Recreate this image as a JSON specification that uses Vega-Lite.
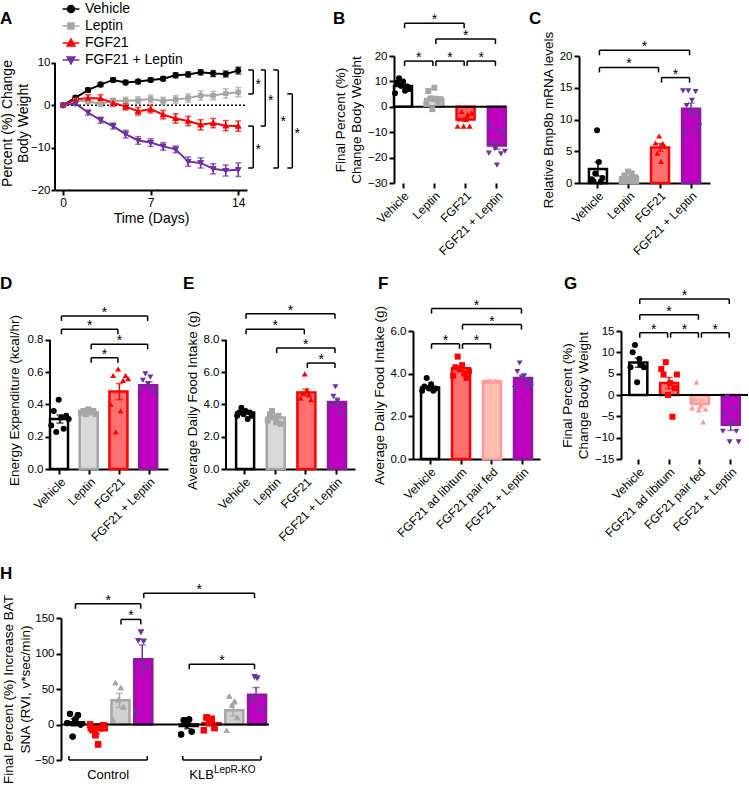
{
"$schema": "https://vega.github.io/schema/vega-lite/v6.json",
"background": "white",
"padding": 0,
"autosize": {"type": "pad"},
"config": {
 "font": "Liberation Sans",
 "view": {"stroke": null},
 "axis": {"grid": false, "domainColor": "#000", "domainWidth": 2, "tickColor": "#000", "tickWidth": 2, "tickSize": 5, "labelColor": "#000", "labelFontSize": 11.5, "titleColor": "#000", "titleFontSize": 13.5, "titleFontWeight": "normal", "labelPadding": 2, "titlePadding": 4, "labelFlush": false, "labelOverlap": false, "titleLineHeight": 16},
 "title": {"fontSize": 17, "fontWeight": "bold", "anchor": "start", "frame": "group", "color": "#000", "offset": 0, "baseline": "alphabetic"},
 "legend": {"labelColor": "#000", "padding": 0},
 "text": {"color": "#000"}
},
"datasets": {
 "zero": [{"z": 0}],
 "a_ref": [{"x0": 0, "x1": 14.7, "y0": 0, "xa": -0.64, "ya0": -20, "ya1": 10}],
 "d_ax": [{"xa": "Vehicle", "y0": 0, "y1": 0.8}],
 "e_ax": [{"xa": "Vehicle", "y0": 0, "y1": 8}],
 "a_ts": [
  {"d":0,"g":"Vehicle","v":0,"e":0},{"d":1,"g":"Vehicle","v":1.8,"e":0.5},{"d":2,"g":"Vehicle","v":3.6,"e":0.5},{"d":3,"g":"Vehicle","v":4.9,"e":0.5},{"d":4,"g":"Vehicle","v":6.0,"e":0.5},{"d":5,"g":"Vehicle","v":5.4,"e":0.5},{"d":6,"g":"Vehicle","v":5.6,"e":0.5},{"d":7,"g":"Vehicle","v":6.0,"e":0.5},{"d":8,"g":"Vehicle","v":6.3,"e":0.5},{"d":9,"g":"Vehicle","v":7.1,"e":0.6},{"d":10,"g":"Vehicle","v":7.3,"e":0.6},{"d":11,"g":"Vehicle","v":7.8,"e":0.6},{"d":12,"g":"Vehicle","v":7.5,"e":0.7},{"d":13,"g":"Vehicle","v":7.4,"e":0.7},{"d":14,"g":"Vehicle","v":8.2,"e":0.8},
  {"d":0,"g":"Leptin","v":0,"e":0},{"d":1,"g":"Leptin","v":1.2,"e":0.5},{"d":2,"g":"Leptin","v":0.9,"e":0.6},{"d":3,"g":"Leptin","v":0.4,"e":0.7},{"d":4,"g":"Leptin","v":1.0,"e":0.7},{"d":5,"g":"Leptin","v":1.1,"e":0.8},{"d":6,"g":"Leptin","v":1.2,"e":0.8},{"d":7,"g":"Leptin","v":1.5,"e":0.9},{"d":8,"g":"Leptin","v":1.0,"e":0.9},{"d":9,"g":"Leptin","v":1.4,"e":0.9},{"d":10,"g":"Leptin","v":1.7,"e":1.0},{"d":11,"g":"Leptin","v":2.3,"e":1.1},{"d":12,"g":"Leptin","v":2.3,"e":1.0},{"d":13,"g":"Leptin","v":2.8,"e":1.1},{"d":14,"g":"Leptin","v":3.1,"e":1.1},
  {"d":0,"g":"FGF21","v":0,"e":0},{"d":1,"g":"FGF21","v":1.4,"e":0.5},{"d":2,"g":"FGF21","v":1.7,"e":0.8},{"d":3,"g":"FGF21","v":1.6,"e":0.9},{"d":4,"g":"FGF21","v":0.6,"e":0.8},{"d":5,"g":"FGF21","v":-0.3,"e":0.8},{"d":6,"g":"FGF21","v":-1.4,"e":0.9},{"d":7,"g":"FGF21","v":-0.9,"e":0.9},{"d":8,"g":"FGF21","v":-2.2,"e":1.0},{"d":9,"g":"FGF21","v":-3.1,"e":1.1},{"d":10,"g":"FGF21","v":-3.7,"e":1.1},{"d":11,"g":"FGF21","v":-4.6,"e":1.2},{"d":12,"g":"FGF21","v":-4.2,"e":1.1},{"d":13,"g":"FGF21","v":-4.8,"e":1.2},{"d":14,"g":"FGF21","v":-4.9,"e":1.2},
  {"d":0,"g":"FGF21 + Leptin","v":0,"e":0},{"d":1,"g":"FGF21 + Leptin","v":0.4,"e":0.4},{"d":2,"g":"FGF21 + Leptin","v":-1.7,"e":0.6},{"d":3,"g":"FGF21 + Leptin","v":-3.5,"e":0.7},{"d":4,"g":"FGF21 + Leptin","v":-4.9,"e":0.7},{"d":5,"g":"FGF21 + Leptin","v":-6.8,"e":0.9},{"d":6,"g":"FGF21 + Leptin","v":-8.3,"e":0.9},{"d":7,"g":"FGF21 + Leptin","v":-8.8,"e":0.9},{"d":8,"g":"FGF21 + Leptin","v":-9.7,"e":0.9},{"d":9,"g":"FGF21 + Leptin","v":-10.4,"e":0.8},{"d":10,"g":"FGF21 + Leptin","v":-13.3,"e":1.1},{"d":11,"g":"FGF21 + Leptin","v":-13.6,"e":1.2},{"d":12,"g":"FGF21 + Leptin","v":-15.0,"e":1.2},{"d":13,"g":"FGF21 + Leptin","v":-15.4,"e":1.3},{"d":14,"g":"FGF21 + Leptin","v":-15.2,"e":1.6}
 ],
 "a_bk": [
  {"xt":14.8,"xv":15.2,"ya":8.35,"yb":2.7,"ym":5.5,"xs":15.6},
  {"xt":15.8,"xv":16.16,"ya":8.35,"yb":-4.9,"ym":1.7,"xs":16.6},
  {"xt":14.8,"xv":15.2,"ya":-4.9,"yb":-14.8,"ym":-9.85,"xs":15.6},
  {"xt":16.8,"xv":17.2,"ya":8.35,"yb":-14.8,"ym":-3.2,"xs":17.6},
  {"xt":17.92,"xv":18.32,"ya":2.7,"yb":-14.8,"ym":-6.05,"xs":18.72}
 ],
 "b_bar": [{"g":"Vehicle","m":8.2,"e":0.8},{"g":"Leptin","m":3.1,"e":1.0},{"g":"FGF21","m":-5.0,"e":0.7},{"g":"FGF21 + Leptin","m":-15.2,"e":1.5}],
 "b_pt": [
  {"g":"Vehicle","r":1,"v":5.3},{"g":"Vehicle","r":2,"v":9.5},{"g":"Vehicle","r":3,"v":11.2},{"g":"Vehicle","r":4,"v":8.3},{"g":"Vehicle","r":5,"v":10.0},{"g":"Vehicle","r":6,"v":6.3},{"g":"Vehicle","r":7,"v":8.0},{"g":"Vehicle","r":8,"v":7.0},
  {"g":"Leptin","r":1,"v":1.1},{"g":"Leptin","r":2,"v":6.2},{"g":"Leptin","r":3,"v":3.3},{"g":"Leptin","r":4,"v":-0.9},{"g":"Leptin","r":5,"v":7.5},{"g":"Leptin","r":6,"v":3.0},{"g":"Leptin","r":7,"v":1.5},{"g":"Leptin","r":8,"v":3.0},
  {"g":"FGF21","r":1,"v":-7.6},{"g":"FGF21","r":2,"v":-4.8},{"g":"FGF21","r":3,"v":-1.9},{"g":"FGF21","r":4,"v":-7.6},{"g":"FGF21","r":5,"v":-5.0},{"g":"FGF21","r":6,"v":-3.0},{"g":"FGF21","r":7,"v":-7.6},{"g":"FGF21","r":8,"v":-2.5},
  {"g":"FGF21 + Leptin","r":1,"v":-18.2},{"g":"FGF21 + Leptin","r":2,"v":-7.8},{"g":"FGF21 + Leptin","r":3,"v":-14.6},{"g":"FGF21 + Leptin","r":4,"v":-16.5},{"g":"FGF21 + Leptin","r":5,"v":-23},{"g":"FGF21 + Leptin","r":6,"v":-9.5},{"g":"FGF21 + Leptin","r":7,"v":-18.5},{"g":"FGF21 + Leptin","r":8,"v":-11},{"g":"FGF21 + Leptin","r":9,"v":-17.5}
 ],
 "b_bk": [
  {"a":"Vehicle","b":"FGF21","h":32.9,"m":"Leptin","half":false},
  {"a":"Leptin","b":"FGF21 + Leptin","h":26.7,"m":"FGF21","half":false},
  {"a":"Vehicle","b":"Leptin","h":18,"m":"Vehicle","half":true},
  {"a":"Leptin","b":"FGF21","h":18,"m":"Leptin","half":true},
  {"a":"FGF21","b":"FGF21 + Leptin","h":18,"m":"FGF21","half":true}
 ],
 "c_bar": [{"g":"Vehicle","m":2.2,"e":1.1},{"g":"Leptin","m":0.9,"e":0.2},{"g":"FGF21","m":5.6,"e":0.6},{"g":"FGF21 + Leptin","m":11.7,"e":0.9}],
 "c_pt": [
  {"g":"Vehicle","r":2,"v":0.6},{"g":"Vehicle","r":3,"v":0.3},{"g":"Vehicle","r":4,"v":1.5},{"g":"Vehicle","r":5,"v":8.3},{"g":"Vehicle","r":6,"v":3.3},{"g":"Vehicle","r":7,"v":0.2},{"g":"Vehicle","r":8,"v":0.8},
  {"g":"Leptin","r":2,"v":0.3},{"g":"Leptin","r":3,"v":1.2},{"g":"Leptin","r":4,"v":0.6},{"g":"Leptin","r":5,"v":1.8},{"g":"Leptin","r":6,"v":0.5},{"g":"Leptin","r":7,"v":1.5},{"g":"Leptin","r":8,"v":0.4},{"g":"Leptin","r":9,"v":0.9},
  {"g":"FGF21","r":3,"v":6.3},{"g":"FGF21","r":4,"v":4.7},{"g":"FGF21","r":5,"v":7.4},{"g":"FGF21","r":6,"v":3.4},{"g":"FGF21","r":7,"v":6.2},{"g":"FGF21","r":8,"v":5.8},
  {"g":"FGF21 + Leptin","r":1,"v":14.5},{"g":"FGF21 + Leptin","r":2,"v":8.0},{"g":"FGF21 + Leptin","r":3,"v":12.2},{"g":"FGF21 + Leptin","r":4,"v":14.5},{"g":"FGF21 + Leptin","r":5,"v":10.9},{"g":"FGF21 + Leptin","r":6,"v":13.0},{"g":"FGF21 + Leptin","r":7,"v":8.0},{"g":"FGF21 + Leptin","r":8,"v":14.4},{"g":"FGF21 + Leptin","r":9,"v":10.9},{"g":"FGF21 + Leptin","r":10,"v":9.0}
 ],
 "c_bk": [
  {"a":"Vehicle","b":"FGF21 + Leptin","h":20.9,"m":"Leptin","half":true},
  {"a":"Vehicle","b":"FGF21","h":18.2,"m":"Leptin","half":false},
  {"a":"FGF21","b":"FGF21 + Leptin","h":16.6,"m":"FGF21","half":true}
 ],
 "d_bar": [{"g":"Vehicle","m":0.31,"e":0.025},{"g":"Leptin","m":0.35,"e":0.01},{"g":"FGF21","m":0.48,"e":0.05},{"g":"FGF21 + Leptin","m":0.52,"e":0.02}],
 "d_pt": [
  {"g":"Vehicle","r":1,"v":0.27},{"g":"Vehicle","r":2,"v":0.36},{"g":"Vehicle","r":3,"v":0.23},{"g":"Vehicle","r":4,"v":0.43},{"g":"Vehicle","r":5,"v":0.32},{"g":"Vehicle","r":6,"v":0.25},{"g":"Vehicle","r":7,"v":0.33},{"g":"Vehicle","r":8,"v":0.31},
  {"g":"Leptin","r":1,"v":0.35},{"g":"Leptin","r":2,"v":0.36},{"g":"Leptin","r":3,"v":0.34},{"g":"Leptin","r":4,"v":0.37},{"g":"Leptin","r":5,"v":0.35},{"g":"Leptin","r":6,"v":0.36},{"g":"Leptin","r":7,"v":0.34},
  {"g":"FGF21","r":1,"v":0.40},{"g":"FGF21","r":2,"v":0.58},{"g":"FGF21","r":3,"v":0.23},{"g":"FGF21","r":4,"v":0.62},{"g":"FGF21","r":5,"v":0.36},{"g":"FGF21","r":6,"v":0.55},{"g":"FGF21","r":7,"v":0.58},{"g":"FGF21","r":8,"v":0.56},
  {"g":"FGF21 + Leptin","r":1,"v":0.50},{"g":"FGF21 + Leptin","r":2,"v":0.55},{"g":"FGF21 + Leptin","r":3,"v":0.59},{"g":"FGF21 + Leptin","r":4,"v":0.53},{"g":"FGF21 + Leptin","r":5,"v":0.57},{"g":"FGF21 + Leptin","r":6,"v":0.48},{"g":"FGF21 + Leptin","r":7,"v":0.47}
 ],
 "d_bk": [
  {"a":"Vehicle","b":"FGF21 + Leptin","h":0.949,"m":"Leptin","half":true},
  {"a":"Vehicle","b":"FGF21","h":0.866,"m":"Leptin","half":false},
  {"a":"Leptin","b":"FGF21 + Leptin","h":0.773,"m":"FGF21","half":false},
  {"a":"Leptin","b":"FGF21","h":0.69,"m":"Leptin","half":true}
 ],
 "e_bar": [{"g":"Vehicle","m":3.5,"e":0.1},{"g":"Leptin","m":3.2,"e":0.1},{"g":"FGF21","m":4.75,"e":0.2},{"g":"FGF21 + Leptin","m":4.15,"e":0.25}],
 "e_pt": [
  {"g":"Vehicle","r":1,"v":3.3},{"g":"Vehicle","r":2,"v":3.5},{"g":"Vehicle","r":3,"v":3.8},{"g":"Vehicle","r":4,"v":3.4},{"g":"Vehicle","r":5,"v":3.6},{"g":"Vehicle","r":6,"v":3.1},{"g":"Vehicle","r":7,"v":3.5},{"g":"Vehicle","r":8,"v":3.3},
  {"g":"Leptin","r":1,"v":3.0},{"g":"Leptin","r":2,"v":3.4},{"g":"Leptin","r":3,"v":3.6},{"g":"Leptin","r":4,"v":3.2},{"g":"Leptin","r":5,"v":2.9},{"g":"Leptin","r":6,"v":3.3},{"g":"Leptin","r":7,"v":2.8},
  {"g":"FGF21","r":2,"v":4.4},{"g":"FGF21","r":3,"v":4.7},{"g":"FGF21","r":4,"v":5.9},{"g":"FGF21","r":5,"v":4.9},{"g":"FGF21","r":6,"v":4.6},{"g":"FGF21","r":7,"v":4.3},
  {"g":"FGF21 + Leptin","r":2,"v":3.9},{"g":"FGF21 + Leptin","r":3,"v":4.5},{"g":"FGF21 + Leptin","r":4,"v":5.1},{"g":"FGF21 + Leptin","r":5,"v":4.2},{"g":"FGF21 + Leptin","r":6,"v":3.4},{"g":"FGF21 + Leptin","r":7,"v":3.8}
 ],
 "e_bk": [
  {"a":"Vehicle","b":"FGF21 + Leptin","h":9.63,"m":"Leptin","half":true},
  {"a":"Vehicle","b":"FGF21","h":8.66,"m":"Leptin","half":false},
  {"a":"Leptin","b":"FGF21 + Leptin","h":7.5,"m":"FGF21","half":false},
  {"a":"FGF21","b":"FGF21 + Leptin","h":6.57,"m":"FGF21","half":true}
 ],
 "f_bar": [{"g":"Vehicle","m":3.35,"e":0.08},{"g":"FGF21 ad libitum","m":4.25,"e":0.1},{"g":"FGF21 pair fed","m":3.65,"e":0.01},{"g":"FGF21 + Leptin","m":3.8,"e":0.15}],
 "f_pt": [
  {"g":"Vehicle","r":1,"v":3.2},{"g":"Vehicle","r":2,"v":3.4},{"g":"Vehicle","r":3,"v":3.8},{"g":"Vehicle","r":4,"v":3.3},{"g":"Vehicle","r":5,"v":3.5},{"g":"Vehicle","r":6,"v":3.2},{"g":"Vehicle","r":7,"v":3.3},
  {"g":"FGF21 ad libitum","r":1,"v":3.9},{"g":"FGF21 ad libitum","r":2,"v":4.3},{"g":"FGF21 ad libitum","r":3,"v":4.8},{"g":"FGF21 ad libitum","r":4,"v":4.2},{"g":"FGF21 ad libitum","r":5,"v":4.4},{"g":"FGF21 ad libitum","r":6,"v":4.0},{"g":"FGF21 ad libitum","r":7,"v":3.8},{"g":"FGF21 ad libitum","r":8,"v":4.1},
  {"g":"FGF21 pair fed","r":1,"v":3.64},{"g":"FGF21 pair fed","r":2,"v":3.66},{"g":"FGF21 pair fed","r":3,"v":3.65},{"g":"FGF21 pair fed","r":4,"v":3.67},{"g":"FGF21 pair fed","r":5,"v":3.63},{"g":"FGF21 pair fed","r":6,"v":3.66},{"g":"FGF21 pair fed","r":7,"v":3.65},{"g":"FGF21 pair fed","r":8,"v":3.64},
  {"g":"FGF21 + Leptin","r":1,"v":3.3},{"g":"FGF21 + Leptin","r":2,"v":4.1},{"g":"FGF21 + Leptin","r":3,"v":4.5},{"g":"FGF21 + Leptin","r":4,"v":3.8},{"g":"FGF21 + Leptin","r":5,"v":3.9},{"g":"FGF21 + Leptin","r":6,"v":3.4},{"g":"FGF21 + Leptin","r":7,"v":3.6},{"g":"FGF21 + Leptin","r":8,"v":3.4}
 ],
 "f_bk": [
  {"a":"Vehicle","b":"FGF21 + Leptin","h":7.05,"m":"FGF21 ad libitum","half":true},
  {"a":"FGF21 ad libitum","b":"FGF21 + Leptin","h":6.3,"m":"FGF21 pair fed","half":false},
  {"a":"Vehicle","b":"FGF21 ad libitum","h":5.4,"m":"Vehicle","half":true},
  {"a":"FGF21 ad libitum","b":"FGF21 pair fed","h":5.4,"m":"FGF21 ad libitum","half":true}
 ],
 "g_bar": [{"g":"Vehicle","m":7.6,"e":1.1},{"g":"FGF21 ad libitum","m":2.8,"e":1.3},{"g":"FGF21 pair fed","m":-2.1,"e":1.0},{"g":"FGF21 + Leptin","m":-7.0,"e":1.3}],
 "g_pt": [
  {"g":"Vehicle","r":1,"v":6.5},{"g":"Vehicle","r":2,"v":10.0},{"g":"Vehicle","r":3,"v":11.7},{"g":"Vehicle","r":4,"v":3.0},{"g":"Vehicle","r":5,"v":8.5},{"g":"Vehicle","r":6,"v":7.0},{"g":"Vehicle","r":7,"v":6.5},
  {"g":"FGF21 ad libitum","r":1,"v":6.1},{"g":"FGF21 ad libitum","r":2,"v":4.8},{"g":"FGF21 ad libitum","r":3,"v":7.7},{"g":"FGF21 ad libitum","r":4,"v":0},{"g":"FGF21 ad libitum","r":5,"v":2.8},{"g":"FGF21 ad libitum","r":6,"v":-5.1},{"g":"FGF21 ad libitum","r":7,"v":1.6},{"g":"FGF21 ad libitum","r":8,"v":4.8},
  {"g":"FGF21 pair fed","r":1,"v":-3.0},{"g":"FGF21 pair fed","r":2,"v":-1.0},{"g":"FGF21 pair fed","r":3,"v":3.0},{"g":"FGF21 pair fed","r":4,"v":-3.5},{"g":"FGF21 pair fed","r":5,"v":-2.3},{"g":"FGF21 pair fed","r":6,"v":-6.3},{"g":"FGF21 pair fed","r":7,"v":-3.3},
  {"g":"FGF21 + Leptin","r":1,"v":-8.5},{"g":"FGF21 + Leptin","r":2,"v":-4.5},{"g":"FGF21 + Leptin","r":3,"v":-0.5},{"g":"FGF21 + Leptin","r":4,"v":-11},{"g":"FGF21 + Leptin","r":5,"v":-6.0},{"g":"FGF21 + Leptin","r":6,"v":-3.2},{"g":"FGF21 + Leptin","r":7,"v":-8.5},{"g":"FGF21 + Leptin","r":8,"v":-11}
 ],
 "g_bk": [
  {"a":"Vehicle","b":"FGF21 + Leptin","h":22.5,"m":"FGF21 ad libitum","half":true},
  {"a":"Vehicle","b":"FGF21 pair fed","h":18.8,"m":"FGF21 ad libitum","half":false},
  {"a":"Vehicle","b":"FGF21 ad libitum","h":14.6,"m":"Vehicle","half":true},
  {"a":"FGF21 ad libitum","b":"FGF21 pair fed","h":14.6,"m":"FGF21 ad libitum","half":true},
  {"a":"FGF21 pair fed","b":"FGF21 + Leptin","h":14.6,"m":"FGF21 pair fed","half":true}
 ],
 "h_bar": [
  {"c":"C1","tb":"Vehicle","m":3,"e":5},{"c":"C2","tb":"FGF21","m":-8,"e":5},{"c":"C3","tb":"Leptin","m":34,"e":10},{"c":"C4","tb":"FGF21 + Leptin","m":92,"e":20},
  {"c":"K1","tb":"Vehicle","m":-2,"e":4},{"c":"K2","tb":"FGF21","m":2,"e":4},{"c":"K3","tb":"Leptin","m":20,"e":8},{"c":"K4","tb":"FGF21 + Leptin","m":42,"e":10}
 ],
 "h_pt": [
  {"c":"C1","t":"Vehicle","r":1,"v":2},{"c":"C1","t":"Vehicle","r":2,"v":15},{"c":"C1","t":"Vehicle","r":3,"v":-17},{"c":"C1","t":"Vehicle","r":4,"v":7},{"c":"C1","t":"Vehicle","r":5,"v":13},{"c":"C1","t":"Vehicle","r":6,"v":0},
  {"c":"C2","t":"FGF21","r":1,"v":0},{"c":"C2","t":"FGF21","r":2,"v":-8},{"c":"C2","t":"FGF21","r":3,"v":-15},{"c":"C2","t":"FGF21","r":4,"v":-28},{"c":"C2","t":"FGF21","r":5,"v":-5},{"c":"C2","t":"FGF21","r":6,"v":-1},
  {"c":"C3","t":"Leptin","r":1,"v":7},{"c":"C3","t":"Leptin","r":2,"v":59},{"c":"C3","t":"Leptin","r":3,"v":35},{"c":"C3","t":"Leptin","r":4,"v":52},{"c":"C3","t":"Leptin","r":5,"v":25},
  {"c":"C4","t":"FGF21 + Leptin","r":1,"v":18},{"c":"C4","t":"FGF21 + Leptin","r":2,"v":118},{"c":"C4","t":"FGF21 + Leptin","r":3,"v":130},{"c":"C4","t":"FGF21 + Leptin","r":4,"v":117},{"c":"C4","t":"FGF21 + Leptin","r":5,"v":80},
  {"c":"K1","t":"Vehicle","r":1,"v":-14},{"c":"K1","t":"Vehicle","r":2,"v":6},{"c":"K1","t":"Vehicle","r":3,"v":0},{"c":"K1","t":"Vehicle","r":4,"v":7},{"c":"K1","t":"Vehicle","r":5,"v":-10},
  {"c":"K2","t":"FGF21","r":1,"v":-8},{"c":"K2","t":"FGF21","r":2,"v":10},{"c":"K2","t":"FGF21","r":3,"v":2},{"c":"K2","t":"FGF21","r":4,"v":8},{"c":"K2","t":"FGF21","r":5,"v":-5},
  {"c":"K3","t":"Leptin","r":1,"v":-8},{"c":"K3","t":"Leptin","r":2,"v":40},{"c":"K3","t":"Leptin","r":3,"v":27},{"c":"K3","t":"Leptin","r":4,"v":33},{"c":"K3","t":"Leptin","r":5,"v":10},
  {"c":"K4","t":"FGF21 + Leptin","r":2,"v":35},{"c":"K4","t":"FGF21 + Leptin","r":3,"v":67},{"c":"K4","t":"FGF21 + Leptin","r":4,"v":65},{"c":"K4","t":"FGF21 + Leptin","r":5,"v":20}
 ],
 "h_bk": [
  {"a":"C1","b":"C4","h":170,"m":"C2"},
  {"a":"C3","b":"C4","h":148,"m":"C3"},
  {"a":"C4","b":"K4","h":185,"m":"K1"},
  {"a":"K1","b":"K4","h":85,"m":"K2"}
 ],
 "h_grp": [
  {"a":"C1","b":"C4","m":"C2","lab":"Control","yb":-50},
  {"a":"K1","b":"K4","m":"K2","lab":"KLB","yb":-50}
 ]
},
"spacing": 0,
"resolve": {"scale": {"color": "independent", "fill": "independent", "stroke": "independent", "shape": "independent", "xOffset": "independent"}},
"vconcat": [
 {
  "bounds": "flush", "spacing": 0,
  "resolve": {"scale": {"color": "independent", "fill": "independent", "stroke": "independent", "shape": "independent", "xOffset": "independent"}},
  "hconcat": [
   {"width": 55, "height": 219, "title": {"text": "A", "dx": 0, "dy": -24}, "data": {"values": []}, "mark": "point", "encoding": {}},
   {
    "width": 192, "height": 134,
    "layer": [
     {"data": {"name": "a_ref"}, "mark": {"type": "rule", "strokeDash": [2, 2], "strokeWidth": 1.5, "color": "#000"}, "encoding": {"x": {"field": "x0", "type": "quantitative", "title": "Time (Days)", "axis": {"values": [0, 7, 14], "tickCount": 20, "titleFontSize": 14, "labelFontSize": 12, "titlePadding": 3, "labelOverlap": false}}, "x2": {"field": "x1"}, "y": {"field": "y0", "type": "quantitative", "title": ["Percent (%) Change", "Body Weight"], "axis": {"values": [10, 0, -10, -20], "tickCount": 20, "domain": false, "titleFontSize": 14, "titleLineHeight": 16, "tickSize": 4, "labelPadding": 1, "titlePadding": 0, "labelOverlap": false}}}},
     {"data": {"name": "a_ref"}, "mark": {"type": "rule", "strokeWidth": 2, "color": "#000"}, "encoding": {"x": {"field": "xa", "type": "quantitative", "title": "Time (Days)"}, "y": {"field": "ya0", "type": "quantitative", "title": ["Percent (%) Change", "Body Weight"]}, "y2": {"field": "ya1"}}},
     {"data": {"name": "a_ts"}, "mark": {"type": "point", "filled": true, "size": 36, "opacity": 1, "strokeWidth": 0},
      "encoding": {
       "x": {"field": "d", "type": "quantitative", "title": "Time (Days)", "scale": {"domain": [-0.64, 14.7], "nice": false, "zero": false}},
       "y": {"field": "v", "type": "quantitative", "title": ["Percent (%) Change", "Body Weight"], "scale": {"domain": [-20, 11.65], "nice": false, "zero": false}},
       "color": {"field": "g", "type": "nominal", "scale": {"domain": ["Vehicle", "Leptin", "FGF21", "FGF21 + Leptin"], "range": ["#000000", "#A6A6A6", "#FF0000", "#7030A0"]}, "legend": {"title": null, "orient": "none", "legendX": 7, "legendY": -56, "labelFontSize": 14, "symbolSize": 49, "labelOffset": 7, "rowPadding": 3, "padding": 2, "encode": {"symbols": {"update": {"stroke": {"signal": "datum.value === 'Vehicle' ? '#000000' : datum.value === 'Leptin' ? '#A6A6A6' : datum.value === 'FGF21' ? '#FF0000' : '#7030A0'"}, "strokeWidth": {"value": 2}}}}}},
       "shape": {"field": "g", "type": "nominal", "scale": {"domain": ["Vehicle", "Leptin", "FGF21", "FGF21 + Leptin"], "range": ["M-2.4,0H2.4M-1,0A1,1,0,1,0,1,0A1,1,0,1,0,-1,0Z", "M-2.4,0H2.4M-0.85,-0.85H0.85V0.85H-0.85Z", "M-2.4,0H2.4M0,-1.1L1.1,0.85H-1.1Z", "M-2.4,0H2.4M0,1.1L1.1,-0.85H-1.1Z"]}, "legend": {"title": null, "orient": "none", "legendX": 7, "legendY": -56, "labelFontSize": 14, "symbolSize": 49, "labelOffset": 7, "rowPadding": 3, "padding": 2, "encode": {"symbols": {"update": {"stroke": {"signal": "datum.value === 'Vehicle' ? '#000000' : datum.value === 'Leptin' ? '#A6A6A6' : datum.value === 'FGF21' ? '#FF0000' : '#7030A0'"}, "strokeWidth": {"value": 2}}}}}}
      }},
     {"data": {"name": "a_ts"}, "mark": {"type": "line", "strokeWidth": 2},
      "encoding": {"x": {"field": "d", "type": "quantitative", "title": "Time (Days)"}, "y": {"field": "v", "type": "quantitative", "title": ["Percent (%) Change", "Body Weight"]}, "color": {"field": "g", "type": "nominal", "legend": null}}},
     {"data": {"name": "a_ts"}, "mark": {"type": "errorbar", "ticks": true, "thickness": 1.5, "size": 6},
      "encoding": {"x": {"field": "d", "type": "quantitative", "title": "Time (Days)"}, "y": {"field": "v", "type": "quantitative", "title": ["Percent (%) Change", "Body Weight"]}, "yError": {"field": "e"}, "color": {"field": "g", "type": "nominal", "legend": null}}},
     {"data": {"name": "a_ts"}, "mark": {"type": "point", "filled": true, "size": 36, "opacity": 1, "strokeWidth": 0},
      "encoding": {"x": {"field": "d", "type": "quantitative", "title": "Time (Days)"}, "y": {"field": "v", "type": "quantitative", "title": ["Percent (%) Change", "Body Weight"]}, "color": {"field": "g", "type": "nominal", "legend": null}, "shape": {"field": "g", "type": "nominal", "legend": null}}},
     {"data": {"name": "a_bk"}, "mark": {"type": "rule", "strokeWidth": 1.5, "color": "#000"}, "encoding": {"x": {"field": "xt", "type": "quantitative", "title": "Time (Days)"}, "x2": {"field": "xv"}, "y": {"field": "ya", "type": "quantitative", "title": ["Percent (%) Change", "Body Weight"]}}},
     {"data": {"name": "a_bk"}, "mark": {"type": "rule", "strokeWidth": 1.5, "color": "#000"}, "encoding": {"x": {"field": "xt", "type": "quantitative", "title": "Time (Days)"}, "x2": {"field": "xv"}, "y": {"field": "yb", "type": "quantitative", "title": ["Percent (%) Change", "Body Weight"]}}},
     {"data": {"name": "a_bk"}, "mark": {"type": "rule", "strokeWidth": 1.5, "color": "#000"}, "encoding": {"x": {"field": "xv", "type": "quantitative", "title": "Time (Days)"}, "y": {"field": "ya", "type": "quantitative", "title": ["Percent (%) Change", "Body Weight"]}, "y2": {"field": "yb"}}},
     {"data": {"name": "a_bk"}, "mark": {"type": "text", "text": "*", "fontSize": 14, "baseline": "middle", "dy": 3}, "encoding": {"x": {"field": "xs", "type": "quantitative", "title": "Time (Days)"}, "y": {"field": "ym", "type": "quantitative", "title": ["Percent (%) Change", "Body Weight"]}}}
    ]
   },
   {"width": 147, "height": 1, "title": {"text": "B", "dx": 86, "dy": -24}, "data": {"values": []}, "mark": "point", "encoding": {}},
   {
    "width": 112, "height": 127,
    "layer": [
     {"data": {"name": "b_bar"}, "mark": {"type": "bar", "strokeWidth": 2.5},
      "encoding": {
       "x": {"field": "g", "type": "nominal", "scale": {"domain": ["Vehicle", "Leptin", "FGF21", "FGF21 + Leptin"], "paddingInner": 0.42, "paddingOuter": 0}, "axis": {"title": null, "labelAngle": -45, "domain": false, "labelFontSize": 12}},
       "y": {"field": "m", "type": "quantitative", "title": ["Final Percent (%)", "Change Body Weight"], "scale": {"domain": [-30, 20], "nice": false}, "axis": {"values": [20, 10, 0, -10, -20, -30], "tickCount": 20, "labelOverlap": false}},
       "y2": {"datum": 0},
       "fill": {"field": "g", "type": "nominal", "scale": {"domain": ["Vehicle", "Leptin", "FGF21", "FGF21 + Leptin"], "range": ["#FFFFFF", "#D9D9D9", "#FF6060", "#C000C0"]}, "legend": null},
       "stroke": {"field": "g", "type": "nominal", "scale": {"domain": ["Vehicle", "Leptin", "FGF21", "FGF21 + Leptin"], "range": ["#000000", "#A6A6A6", "#FF0000", "#8B1A9E"]}, "legend": null}
      }},
     {"data": {"name": "zero"}, "mark": {"type": "rule", "strokeWidth": 2, "color": "#000"}, "encoding": {"y": {"field": "z", "type": "quantitative", "title": ["Final Percent (%)", "Change Body Weight"]}}},
     {"data": {"name": "b_bar"}, "mark": {"type": "errorbar", "ticks": true, "thickness": 1.5, "size": 7},
      "encoding": {"x": {"field": "g", "type": "nominal"}, "y": {"field": "m", "type": "quantitative", "title": ["Final Percent (%)", "Change Body Weight"]}, "yError": {"field": "e"}, "color": {"field": "g", "type": "nominal", "scale": {"domain": ["Vehicle", "Leptin", "FGF21", "FGF21 + Leptin"], "range": ["#000000", "#A6A6A6", "#FF0000", "#7030A0"]}, "legend": null}}},
     {"data": {"name": "b_pt"}, "mark": {"type": "point", "filled": true, "size": 36, "opacity": 1},
      "encoding": {"x": {"field": "g", "type": "nominal"}, "xOffset": {"field": "r", "type": "nominal", "scale": {"domain": [1, 2, 3, 4, 5, 6, 7, 8, 9], "paddingOuter": 0.5}}, "y": {"field": "v", "type": "quantitative", "title": ["Final Percent (%)", "Change Body Weight"]}, "color": {"field": "g", "type": "nominal", "legend": null}, "shape": {"field": "g", "type": "nominal", "scale": {"domain": ["Vehicle", "Leptin", "FGF21", "FGF21 + Leptin"], "range": ["circle", "square", "triangle-up", "triangle-down"]}, "legend": null}}},
     {"data": {"name": "b_bk"}, "mark": {"type": "rule", "color": "#000", "strokeWidth": 1.5, "xOffset": 1.5, "x2Offset": -1.5}, "encoding": {"x": {"field": "a", "type": "nominal"}, "x2": {"field": "b"}, "y": {"field": "h", "type": "quantitative", "title": ["Final Percent (%)", "Change Body Weight"]}}},
     {"data": {"name": "b_bk"}, "mark": {"type": "rule", "color": "#000", "strokeWidth": 1.5, "xOffset": 1.5, "y2Offset": 5}, "encoding": {"x": {"field": "a", "type": "nominal"}, "y": {"field": "h", "type": "quantitative", "title": ["Final Percent (%)", "Change Body Weight"]}, "y2": {"field": "h"}}},
     {"data": {"name": "b_bk"}, "mark": {"type": "rule", "color": "#000", "strokeWidth": 1.5, "xOffset": -1.5, "y2Offset": 5}, "encoding": {"x": {"field": "b", "type": "nominal"}, "y": {"field": "h", "type": "quantitative", "title": ["Final Percent (%)", "Change Body Weight"]}, "y2": {"field": "h"}}},
     {"data": {"name": "b_bk"}, "transform": [{"filter": "!datum.half"}], "mark": {"type": "text", "text": "*", "fontSize": 14, "baseline": "alphabetic", "dy": 1}, "encoding": {"x": {"field": "m", "type": "nominal"}, "y": {"field": "h", "type": "quantitative", "title": ["Final Percent (%)", "Change Body Weight"]}}},
     {"data": {"name": "b_bk"}, "transform": [{"filter": "datum.half"}], "mark": {"type": "text", "text": "*", "fontSize": 14, "baseline": "alphabetic", "dy": 1}, "encoding": {"x": {"field": "m", "type": "nominal", "bandPosition": 1.362}, "y": {"field": "h", "type": "quantitative", "title": ["Final Percent (%)", "Change Body Weight"]}}}
    ]
   },
   {"width": 73, "height": 1, "title": {"text": "C", "dx": 23, "dy": -24}, "data": {"values": []}, "mark": "point", "encoding": {}},
   {
    "width": 131, "height": 127,
    "layer": [
     {"data": {"name": "c_bar"}, "mark": {"type": "bar", "strokeWidth": 2.5},
      "encoding": {
       "x": {"field": "g", "type": "nominal", "scale": {"domain": ["Vehicle", "Leptin", "FGF21", "FGF21 + Leptin"], "paddingInner": 0.42, "paddingOuter": 0.32}, "axis": {"title": null, "labelAngle": -45, "labelFontSize": 12}},
       "y": {"field": "m", "type": "quantitative", "title": "Relative Bmp8b mRNA levels", "scale": {"domain": [0, 20], "nice": false}, "axis": {"values": [0, 5, 10, 15, 20], "tickCount": 20, "labelOverlap": false}},
       "y2": {"datum": 0},
       "fill": {"field": "g", "type": "nominal", "scale": {"domain": ["Vehicle", "Leptin", "FGF21", "FGF21 + Leptin"], "range": ["#FFFFFF", "#D9D9D9", "#FF7070", "#C000C0"]}, "legend": null},
       "stroke": {"field": "g", "type": "nominal", "scale": {"domain": ["Vehicle", "Leptin", "FGF21", "FGF21 + Leptin"], "range": ["#000000", "#A6A6A6", "#FF0000", "#8B1A9E"]}, "legend": null}
      }},
     {"data": {"name": "c_bar"}, "mark": {"type": "errorbar", "ticks": true, "thickness": 1.5, "size": 7},
      "encoding": {"x": {"field": "g", "type": "nominal"}, "y": {"field": "m", "type": "quantitative", "title": "Relative Bmp8b mRNA levels"}, "yError": {"field": "e"}, "color": {"field": "g", "type": "nominal", "scale": {"domain": ["Vehicle", "Leptin", "FGF21", "FGF21 + Leptin"], "range": ["#000000", "#A6A6A6", "#FF0000", "#7030A0"]}, "legend": null}}},
     {"data": {"name": "c_pt"}, "mark": {"type": "point", "filled": true, "size": 36, "opacity": 1},
      "encoding": {"x": {"field": "g", "type": "nominal"}, "xOffset": {"field": "r", "type": "nominal", "scale": {"domain": [1, 2, 3, 4, 5, 6, 7, 8, 9, 10], "paddingOuter": 0.5}}, "y": {"field": "v", "type": "quantitative", "title": "Relative Bmp8b mRNA levels"}, "color": {"field": "g", "type": "nominal", "legend": null}, "shape": {"field": "g", "type": "nominal", "scale": {"domain": ["Vehicle", "Leptin", "FGF21", "FGF21 + Leptin"], "range": ["circle", "square", "triangle-up", "triangle-down"]}, "legend": null}}},
     {"data": {"name": "c_bk"}, "mark": {"type": "rule", "color": "#000", "strokeWidth": 1.5, "xOffset": 1.5, "x2Offset": -1.5}, "encoding": {"x": {"field": "a", "type": "nominal"}, "x2": {"field": "b"}, "y": {"field": "h", "type": "quantitative", "title": "Relative Bmp8b mRNA levels"}}},
     {"data": {"name": "c_bk"}, "mark": {"type": "rule", "color": "#000", "strokeWidth": 1.5, "xOffset": 1.5, "y2Offset": 5}, "encoding": {"x": {"field": "a", "type": "nominal"}, "y": {"field": "h", "type": "quantitative", "title": "Relative Bmp8b mRNA levels"}, "y2": {"field": "h"}}},
     {"data": {"name": "c_bk"}, "mark": {"type": "rule", "color": "#000", "strokeWidth": 1.5, "xOffset": -1.5, "y2Offset": 5}, "encoding": {"x": {"field": "b", "type": "nominal"}, "y": {"field": "h", "type": "quantitative", "title": "Relative Bmp8b mRNA levels"}, "y2": {"field": "h"}}},
     {"data": {"name": "c_bk"}, "transform": [{"filter": "!datum.half"}], "mark": {"type": "text", "text": "*", "fontSize": 14, "baseline": "alphabetic", "dy": 1}, "encoding": {"x": {"field": "m", "type": "nominal"}, "y": {"field": "h", "type": "quantitative", "title": "Relative Bmp8b mRNA levels"}}},
     {"data": {"name": "c_bk"}, "transform": [{"filter": "datum.half"}], "mark": {"type": "text", "text": "*", "fontSize": 14, "baseline": "alphabetic", "dy": 1}, "encoding": {"x": {"field": "m", "type": "nominal", "bandPosition": 1.362}, "y": {"field": "h", "type": "quantitative", "title": "Relative Bmp8b mRNA levels"}}}
    ]
   }
  ]
 },
 {
  "bounds": "flush", "spacing": 0,
  "resolve": {"scale": {"color": "independent", "fill": "independent", "stroke": "independent", "shape": "independent", "xOffset": "independent"}},
  "hconcat": [
   {"width": 50, "height": 234, "title": {"text": "D", "dx": 0, "dy": -34}, "data": {"values": []}, "mark": "point", "encoding": {}},
   {
    "width": 118, "height": 138,
    "layer": [
     {"data": {"name": "d_bar"}, "mark": {"type": "bar", "strokeWidth": 2.5},
      "encoding": {
       "x": {"field": "g", "type": "nominal", "scale": {"domain": ["Vehicle", "Leptin", "FGF21", "FGF21 + Leptin"], "paddingInner": 0.33, "paddingOuter": 0.15, "align": 0}, "axis": {"title": null, "labelAngle": -45, "labelFontSize": 12}},
       "y": {"field": "m", "type": "quantitative", "title": "Energy Expenditure (kcal/hr)", "scale": {"domain": [0, 0.8558], "nice": false}, "axis": {"values": [0, 0.2, 0.4, 0.6, 0.8], "tickCount": 20, "format": ".1f", "domain": false, "labelOverlap": false, "titlePadding": 6}},
       "y2": {"datum": 0},
       "fill": {"field": "g", "type": "nominal", "scale": {"domain": ["Vehicle", "Leptin", "FGF21", "FGF21 + Leptin"], "range": ["#FFFFFF", "#D9D9D9", "#FF7070", "#C000C0"]}, "legend": null},
       "stroke": {"field": "g", "type": "nominal", "scale": {"domain": ["Vehicle", "Leptin", "FGF21", "FGF21 + Leptin"], "range": ["#000000", "#A6A6A6", "#FF0000", "#8B1A9E"]}, "legend": null}
      }},
     {"data": {"name": "d_ax"}, "mark": {"type": "rule", "strokeWidth": 2, "color": "#000"}, "encoding": {"x": {"field": "xa", "type": "nominal", "bandPosition": 0}, "y": {"field": "y0", "type": "quantitative", "title": "Energy Expenditure (kcal/hr)"}, "y2": {"field": "y1"}}},
     {"data": {"name": "d_bar"}, "mark": {"type": "errorbar", "ticks": true, "thickness": 1.5, "size": 7},
      "encoding": {"x": {"field": "g", "type": "nominal"}, "y": {"field": "m", "type": "quantitative", "title": "Energy Expenditure (kcal/hr)"}, "yError": {"field": "e"}, "color": {"field": "g", "type": "nominal", "scale": {"domain": ["Vehicle", "Leptin", "FGF21", "FGF21 + Leptin"], "range": ["#000000", "#A6A6A6", "#FF0000", "#7030A0"]}, "legend": null}}},
     {"data": {"name": "d_pt"}, "mark": {"type": "point", "filled": true, "size": 36, "opacity": 1},
      "encoding": {"x": {"field": "g", "type": "nominal"}, "xOffset": {"field": "r", "type": "nominal", "scale": {"domain": [1, 2, 3, 4, 5, 6, 7, 8], "paddingOuter": 0.5}}, "y": {"field": "v", "type": "quantitative", "title": "Energy Expenditure (kcal/hr)"}, "color": {"field": "g", "type": "nominal", "legend": null}, "shape": {"field": "g", "type": "nominal", "scale": {"domain": ["Vehicle", "Leptin", "FGF21", "FGF21 + Leptin"], "range": ["circle", "square", "triangle-up", "triangle-down"]}, "legend": null}}},
     {"data": {"name": "d_bk"}, "mark": {"type": "rule", "color": "#000", "strokeWidth": 1.5, "xOffset": 1.5, "x2Offset": -1.5}, "encoding": {"x": {"field": "a", "type": "nominal"}, "x2": {"field": "b"}, "y": {"field": "h", "type": "quantitative", "title": "Energy Expenditure (kcal/hr)"}}},
     {"data": {"name": "d_bk"}, "mark": {"type": "rule", "color": "#000", "strokeWidth": 1.5, "xOffset": 1.5, "y2Offset": 5}, "encoding": {"x": {"field": "a", "type": "nominal"}, "y": {"field": "h", "type": "quantitative", "title": "Energy Expenditure (kcal/hr)"}, "y2": {"field": "h"}}},
     {"data": {"name": "d_bk"}, "mark": {"type": "rule", "color": "#000", "strokeWidth": 1.5, "xOffset": -1.5, "y2Offset": 5}, "encoding": {"x": {"field": "b", "type": "nominal"}, "y": {"field": "h", "type": "quantitative", "title": "Energy Expenditure (kcal/hr)"}, "y2": {"field": "h"}}},
     {"data": {"name": "d_bk"}, "transform": [{"filter": "!datum.half"}], "mark": {"type": "text", "text": "*", "fontSize": 14, "baseline": "alphabetic", "dy": 1}, "encoding": {"x": {"field": "m", "type": "nominal"}, "y": {"field": "h", "type": "quantitative", "title": "Energy Expenditure (kcal/hr)"}}},
     {"data": {"name": "d_bk"}, "transform": [{"filter": "datum.half"}], "mark": {"type": "text", "text": "*", "fontSize": 14, "baseline": "alphabetic", "dy": 1}, "encoding": {"x": {"field": "m", "type": "nominal", "bandPosition": 1.246}, "y": {"field": "h", "type": "quantitative", "title": "Energy Expenditure (kcal/hr)"}}}
    ]
   },
   {"width": 58, "height": 1, "title": {"text": "E", "dx": 15, "dy": -34}, "data": {"values": []}, "mark": "point", "encoding": {}},
   {
    "width": 129, "height": 138,
    "layer": [
     {"data": {"name": "e_bar"}, "mark": {"type": "bar", "strokeWidth": 2.5},
      "encoding": {
       "x": {"field": "g", "type": "nominal", "scale": {"domain": ["Vehicle", "Leptin", "FGF21", "FGF21 + Leptin"], "paddingInner": 0.45, "paddingOuter": 0.33}, "axis": {"title": null, "labelAngle": -45, "labelFontSize": 12}},
       "y": {"field": "m", "type": "quantitative", "title": "Average Daily Food Intake (g)", "scale": {"domain": [0, 8.558], "nice": false}, "axis": {"values": [0, 2, 4, 6, 8], "tickCount": 20, "domain": false, "labelOverlap": false}},
       "y2": {"datum": 0},
       "fill": {"field": "g", "type": "nominal", "scale": {"domain": ["Vehicle", "Leptin", "FGF21", "FGF21 + Leptin"], "range": ["#FFFFFF", "#D9D9D9", "#FF7070", "#C000C0"]}, "legend": null},
       "stroke": {"field": "g", "type": "nominal", "scale": {"domain": ["Vehicle", "Leptin", "FGF21", "FGF21 + Leptin"], "range": ["#000000", "#A6A6A6", "#FF0000", "#8B1A9E"]}, "legend": null}
      }},
     {"data": {"name": "e_ax"}, "mark": {"type": "rule", "strokeWidth": 2, "color": "#000"}, "encoding": {"x": {"field": "xa", "type": "nominal", "bandPosition": -0.6}, "y": {"field": "y0", "type": "quantitative", "title": "Average Daily Food Intake (g)"}, "y2": {"field": "y1"}}},
     {"data": {"name": "e_bar"}, "mark": {"type": "errorbar", "ticks": true, "thickness": 1.5, "size": 7},
      "encoding": {"x": {"field": "g", "type": "nominal"}, "y": {"field": "m", "type": "quantitative", "title": "Average Daily Food Intake (g)"}, "yError": {"field": "e"}, "color": {"field": "g", "type": "nominal", "scale": {"domain": ["Vehicle", "Leptin", "FGF21", "FGF21 + Leptin"], "range": ["#000000", "#A6A6A6", "#FF0000", "#7030A0"]}, "legend": null}}},
     {"data": {"name": "e_pt"}, "mark": {"type": "point", "filled": true, "size": 36, "opacity": 1},
      "encoding": {"x": {"field": "g", "type": "nominal"}, "xOffset": {"field": "r", "type": "nominal", "scale": {"domain": [1, 2, 3, 4, 5, 6, 7, 8], "paddingOuter": 0.5}}, "y": {"field": "v", "type": "quantitative", "title": "Average Daily Food Intake (g)"}, "color": {"field": "g", "type": "nominal", "legend": null}, "shape": {"field": "g", "type": "nominal", "scale": {"domain": ["Vehicle", "Leptin", "FGF21", "FGF21 + Leptin"], "range": ["circle", "square", "triangle-up", "triangle-down"]}, "legend": null}}},
     {"data": {"name": "e_bk"}, "mark": {"type": "rule", "color": "#000", "strokeWidth": 1.5, "xOffset": 1.5, "x2Offset": -1.5}, "encoding": {"x": {"field": "a", "type": "nominal"}, "x2": {"field": "b"}, "y": {"field": "h", "type": "quantitative", "title": "Average Daily Food Intake (g)"}}},
     {"data": {"name": "e_bk"}, "mark": {"type": "rule", "color": "#000", "strokeWidth": 1.5, "xOffset": 1.5, "y2Offset": 5}, "encoding": {"x": {"field": "a", "type": "nominal"}, "y": {"field": "h", "type": "quantitative", "title": "Average Daily Food Intake (g)"}, "y2": {"field": "h"}}},
     {"data": {"name": "e_bk"}, "mark": {"type": "rule", "color": "#000", "strokeWidth": 1.5, "xOffset": -1.5, "y2Offset": 5}, "encoding": {"x": {"field": "b", "type": "nominal"}, "y": {"field": "h", "type": "quantitative", "title": "Average Daily Food Intake (g)"}, "y2": {"field": "h"}}},
     {"data": {"name": "e_bk"}, "transform": [{"filter": "!datum.half"}], "mark": {"type": "text", "text": "*", "fontSize": 14, "baseline": "alphabetic", "dy": 1}, "encoding": {"x": {"field": "m", "type": "nominal"}, "y": {"field": "h", "type": "quantitative", "title": "Average Daily Food Intake (g)"}}},
     {"data": {"name": "e_bk"}, "transform": [{"filter": "datum.half"}], "mark": {"type": "text", "text": "*", "fontSize": 14, "baseline": "alphabetic", "dy": 1}, "encoding": {"x": {"field": "m", "type": "nominal", "bandPosition": 1.409}, "y": {"field": "h", "type": "quantitative", "title": "Average Daily Food Intake (g)"}}}
    ]
   },
   {"width": 58, "height": 1, "title": {"text": "F", "dx": 23, "dy": -34}, "data": {"values": []}, "mark": "point", "encoding": {}},
   {
    "width": 127, "height": 128,
    "layer": [
     {"data": {"name": "f_bar"}, "mark": {"type": "bar", "strokeWidth": 2.5},
      "encoding": {
       "x": {"field": "g", "type": "nominal", "scale": {"domain": ["Vehicle", "FGF21 ad libitum", "FGF21 pair fed", "FGF21 + Leptin"], "paddingInner": 0.42, "paddingOuter": 0.26}, "axis": {"title": null, "labelAngle": -45, "labelFontSize": 12}},
       "y": {"field": "m", "type": "quantitative", "title": "Average Daily Food Intake (g)", "scale": {"domain": [0, 6], "nice": false}, "axis": {"values": [0, 2, 4, 6], "tickCount": 20, "labelOverlap": false}},
       "y2": {"datum": 0},
       "fill": {"field": "g", "type": "nominal", "scale": {"domain": ["Vehicle", "FGF21 ad libitum", "FGF21 pair fed", "FGF21 + Leptin"], "range": ["#FFFFFF", "#FF7070", "#FFBFB0", "#C000C0"]}, "legend": null},
       "stroke": {"field": "g", "type": "nominal", "scale": {"domain": ["Vehicle", "FGF21 ad libitum", "FGF21 pair fed", "FGF21 + Leptin"], "range": ["#000000", "#FF0000", "#FF9A9A", "#8B1A9E"]}, "legend": null}
      }},
     {"data": {"name": "f_bar"}, "mark": {"type": "errorbar", "ticks": true, "thickness": 1.5, "size": 7},
      "encoding": {"x": {"field": "g", "type": "nominal"}, "y": {"field": "m", "type": "quantitative", "title": "Average Daily Food Intake (g)"}, "yError": {"field": "e"}, "color": {"field": "g", "type": "nominal", "scale": {"domain": ["Vehicle", "FGF21 ad libitum", "FGF21 pair fed", "FGF21 + Leptin"], "range": ["#000000", "#FF0000", "#FF9E9E", "#7030A0"]}, "legend": null}}},
     {"data": {"name": "f_pt"}, "mark": {"type": "point", "filled": true, "size": 36, "opacity": 1},
      "encoding": {"x": {"field": "g", "type": "nominal"}, "xOffset": {"field": "r", "type": "nominal", "scale": {"domain": [1, 2, 3, 4, 5, 6, 7, 8], "paddingOuter": 0.5}}, "y": {"field": "v", "type": "quantitative", "title": "Average Daily Food Intake (g)"}, "color": {"field": "g", "type": "nominal", "legend": null}, "shape": {"field": "g", "type": "nominal", "scale": {"domain": ["Vehicle", "FGF21 ad libitum", "FGF21 pair fed", "FGF21 + Leptin"], "range": ["circle", "square", "triangle-up", "triangle-down"]}, "legend": null}}},
     {"data": {"name": "f_bk"}, "mark": {"type": "rule", "color": "#000", "strokeWidth": 1.5, "xOffset": 1.5, "x2Offset": -1.5}, "encoding": {"x": {"field": "a", "type": "nominal"}, "x2": {"field": "b"}, "y": {"field": "h", "type": "quantitative", "title": "Average Daily Food Intake (g)"}}},
     {"data": {"name": "f_bk"}, "mark": {"type": "rule", "color": "#000", "strokeWidth": 1.5, "xOffset": 1.5, "y2Offset": 5}, "encoding": {"x": {"field": "a", "type": "nominal"}, "y": {"field": "h", "type": "quantitative", "title": "Average Daily Food Intake (g)"}, "y2": {"field": "h"}}},
     {"data": {"name": "f_bk"}, "mark": {"type": "rule", "color": "#000", "strokeWidth": 1.5, "xOffset": -1.5, "y2Offset": 5}, "encoding": {"x": {"field": "b", "type": "nominal"}, "y": {"field": "h", "type": "quantitative", "title": "Average Daily Food Intake (g)"}, "y2": {"field": "h"}}},
     {"data": {"name": "f_bk"}, "transform": [{"filter": "!datum.half"}], "mark": {"type": "text", "text": "*", "fontSize": 14, "baseline": "alphabetic", "dy": 1}, "encoding": {"x": {"field": "m", "type": "nominal"}, "y": {"field": "h", "type": "quantitative", "title": "Average Daily Food Intake (g)"}}},
     {"data": {"name": "f_bk"}, "transform": [{"filter": "datum.half"}], "mark": {"type": "text", "text": "*", "fontSize": 14, "baseline": "alphabetic", "dy": 1}, "encoding": {"x": {"field": "m", "type": "nominal", "bandPosition": 1.362}, "y": {"field": "h", "type": "quantitative", "title": "Average Daily Food Intake (g)"}}}
    ]
   },
   {"width": 81, "height": 1, "title": {"text": "G", "dx": 24, "dy": -34}, "data": {"values": []}, "mark": "point", "encoding": {}},
   {
    "width": 127, "height": 128,
    "layer": [
     {"data": {"name": "g_bar"}, "mark": {"type": "bar", "strokeWidth": 2.5},
      "encoding": {
       "x": {"field": "g", "type": "nominal", "scale": {"domain": ["Vehicle", "FGF21 ad libitum", "FGF21 pair fed", "FGF21 + Leptin"], "paddingInner": 0.42, "paddingOuter": 0.27}, "axis": {"title": null, "labelAngle": -45, "domain": false, "labelFontSize": 12}},
       "y": {"field": "m", "type": "quantitative", "title": ["Final Percent (%)", "Change Body Weight"], "scale": {"domain": [-15, 15], "nice": false}, "axis": {"values": [15, 10, 5, 0, -5, -10, -15], "tickCount": 20, "labelOverlap": false}},
       "y2": {"datum": 0},
       "fill": {"field": "g", "type": "nominal", "scale": {"domain": ["Vehicle", "FGF21 ad libitum", "FGF21 pair fed", "FGF21 + Leptin"], "range": ["#FFFFFF", "#FF7070", "#FFBFB0", "#C000C0"]}, "legend": null},
       "stroke": {"field": "g", "type": "nominal", "scale": {"domain": ["Vehicle", "FGF21 ad libitum", "FGF21 pair fed", "FGF21 + Leptin"], "range": ["#000000", "#FF0000", "#FF9A9A", "#8B1A9E"]}, "legend": null}
      }},
     {"data": {"name": "zero"}, "mark": {"type": "rule", "strokeWidth": 2, "color": "#000"}, "encoding": {"y": {"field": "z", "type": "quantitative", "title": ["Final Percent (%)", "Change Body Weight"]}}},
     {"data": {"name": "g_bar"}, "mark": {"type": "errorbar", "ticks": true, "thickness": 1.5, "size": 7},
      "encoding": {"x": {"field": "g", "type": "nominal"}, "y": {"field": "m", "type": "quantitative", "title": ["Final Percent (%)", "Change Body Weight"]}, "yError": {"field": "e"}, "color": {"field": "g", "type": "nominal", "scale": {"domain": ["Vehicle", "FGF21 ad libitum", "FGF21 pair fed", "FGF21 + Leptin"], "range": ["#000000", "#FF0000", "#FF9E9E", "#7030A0"]}, "legend": null}}},
     {"data": {"name": "g_pt"}, "mark": {"type": "point", "filled": true, "size": 36, "opacity": 1},
      "encoding": {"x": {"field": "g", "type": "nominal"}, "xOffset": {"field": "r", "type": "nominal", "scale": {"domain": [1, 2, 3, 4, 5, 6, 7, 8], "paddingOuter": 0.5}}, "y": {"field": "v", "type": "quantitative", "title": ["Final Percent (%)", "Change Body Weight"]}, "color": {"field": "g", "type": "nominal", "legend": null}, "shape": {"field": "g", "type": "nominal", "scale": {"domain": ["Vehicle", "FGF21 ad libitum", "FGF21 pair fed", "FGF21 + Leptin"], "range": ["circle", "square", "triangle-up", "triangle-down"]}, "legend": null}}},
     {"data": {"name": "g_bk"}, "mark": {"type": "rule", "color": "#000", "strokeWidth": 1.5, "xOffset": 1.5, "x2Offset": -1.5}, "encoding": {"x": {"field": "a", "type": "nominal"}, "x2": {"field": "b"}, "y": {"field": "h", "type": "quantitative", "title": ["Final Percent (%)", "Change Body Weight"]}}},
     {"data": {"name": "g_bk"}, "mark": {"type": "rule", "color": "#000", "strokeWidth": 1.5, "xOffset": 1.5, "y2Offset": 5}, "encoding": {"x": {"field": "a", "type": "nominal"}, "y": {"field": "h", "type": "quantitative", "title": ["Final Percent (%)", "Change Body Weight"]}, "y2": {"field": "h"}}},
     {"data": {"name": "g_bk"}, "mark": {"type": "rule", "color": "#000", "strokeWidth": 1.5, "xOffset": -1.5, "y2Offset": 5}, "encoding": {"x": {"field": "b", "type": "nominal"}, "y": {"field": "h", "type": "quantitative", "title": ["Final Percent (%)", "Change Body Weight"]}, "y2": {"field": "h"}}},
     {"data": {"name": "g_bk"}, "transform": [{"filter": "!datum.half"}], "mark": {"type": "text", "text": "*", "fontSize": 14, "baseline": "alphabetic", "dy": 1}, "encoding": {"x": {"field": "m", "type": "nominal"}, "y": {"field": "h", "type": "quantitative", "title": ["Final Percent (%)", "Change Body Weight"]}}},
     {"data": {"name": "g_bk"}, "transform": [{"filter": "datum.half"}], "mark": {"type": "text", "text": "*", "fontSize": 14, "baseline": "alphabetic", "dy": 1}, "encoding": {"x": {"field": "m", "type": "nominal", "bandPosition": 1.362}, "y": {"field": "h", "type": "quantitative", "title": ["Final Percent (%)", "Change Body Weight"]}}}
    ]
   }
  ]
 },
 {
  "bounds": "flush", "spacing": 0,
  "resolve": {"scale": {"color": "independent", "fill": "independent", "stroke": "independent", "shape": "independent", "xOffset": "independent"}},
  "hconcat": [
   {"width": 61, "height": 1, "title": {"text": "H", "dx": 0, "dy": -31}, "data": {"values": []}, "mark": "point", "encoding": {}},
   {
    "width": 208, "height": 142,
    "layer": [
     {"data": {"name": "h_bar"}, "mark": {"type": "bar", "strokeWidth": 2.5},
      "encoding": {
       "x": {"field": "c", "type": "nominal", "scale": {"domain": ["C1", "C2", "C3", "C4", "sp", "K1", "K2", "K3", "K4"], "paddingInner": 0.3, "paddingOuter": 0.22}, "axis": null},
       "y": {"field": "m", "type": "quantitative", "title": ["Final Percent (%) Increase BAT", "SNA (RVI, v*sec/min)"], "scale": {"domain": [-50, 150], "nice": false}, "axis": {"values": [-50, 0, 50, 100, 150], "tickCount": 20, "titleFontSize": 13.5, "titleLineHeight": 17, "titlePadding": 2, "labelOverlap": false}},
       "y2": {"datum": 0},
       "fill": {"field": "tb", "type": "nominal", "scale": {"domain": ["Vehicle", "FGF21", "Leptin", "FGF21 + Leptin"], "range": ["#FFFFFF", "#FF7070", "#D0D0D0", "#C000C0"]}, "legend": null},
       "stroke": {"field": "tb", "type": "nominal", "scale": {"domain": ["Vehicle", "FGF21", "Leptin", "FGF21 + Leptin"], "range": ["#000000", "#FF0000", "#A6A6A6", "#8B1A9E"]}, "legend": null}
      }},
     {"data": {"name": "zero"}, "mark": {"type": "rule", "strokeWidth": 2, "color": "#000"}, "encoding": {"y": {"field": "z", "type": "quantitative", "title": ["Final Percent (%) Increase BAT", "SNA (RVI, v*sec/min)"]}}},
     {"data": {"name": "h_pt"}, "mark": {"type": "point", "filled": true, "size": 40, "opacity": 1},
      "encoding": {"x": {"field": "c", "type": "nominal", "axis": null}, "xOffset": {"field": "r", "type": "nominal", "scale": {"domain": [1, 2, 3, 4, 5, 6], "paddingOuter": 0.5}}, "y": {"field": "v", "type": "quantitative", "title": ["Final Percent (%) Increase BAT", "SNA (RVI, v*sec/min)"]},
       "color": {"field": "t", "type": "nominal", "scale": {"domain": ["Vehicle", "FGF21", "Leptin", "FGF21 + Leptin"], "range": ["#000000", "#FF0000", "#A6A6A6", "#7030A0"]}, "legend": {"title": null, "orient": "none", "legendX": 217, "legendY": -27, "labelFontSize": 14, "symbolSize": 70, "labelOffset": 6, "rowPadding": 3, "padding": 0}},
       "shape": {"field": "t", "type": "nominal", "scale": {"domain": ["Vehicle", "FGF21", "Leptin", "FGF21 + Leptin"], "range": ["circle", "square", "triangle-up", "triangle-down"]}, "legend": {"title": null, "orient": "none", "legendX": 217, "legendY": -27, "labelFontSize": 14, "symbolSize": 70, "labelOffset": 6, "rowPadding": 3, "padding": 0}}}},
     {"data": {"name": "h_bar"}, "mark": {"type": "errorbar", "ticks": true, "thickness": 1.5, "size": 7},
      "encoding": {"x": {"field": "c", "type": "nominal", "axis": null}, "y": {"field": "m", "type": "quantitative", "title": ["Final Percent (%) Increase BAT", "SNA (RVI, v*sec/min)"]}, "yError": {"field": "e"}, "color": {"field": "tb", "type": "nominal", "legend": null}}},
     {"data": {"name": "h_pt"}, "mark": {"type": "point", "filled": true, "size": 40, "opacity": 1},
      "encoding": {"x": {"field": "c", "type": "nominal", "axis": null}, "xOffset": {"field": "r", "type": "nominal"}, "y": {"field": "v", "type": "quantitative", "title": ["Final Percent (%) Increase BAT", "SNA (RVI, v*sec/min)"]}, "color": {"field": "t", "type": "nominal", "legend": null}, "shape": {"field": "t", "type": "nominal", "legend": null}}},
     {"data": {"name": "h_bk"}, "mark": {"type": "rule", "color": "#000", "strokeWidth": 1.5, "xOffset": 1.5, "x2Offset": -1.5}, "encoding": {"x": {"field": "a", "type": "nominal", "axis": null}, "x2": {"field": "b"}, "y": {"field": "h", "type": "quantitative", "title": ["Final Percent (%) Increase BAT", "SNA (RVI, v*sec/min)"]}}},
     {"data": {"name": "h_bk"}, "mark": {"type": "rule", "color": "#000", "strokeWidth": 1.5, "xOffset": 1.5, "y2Offset": 5}, "encoding": {"x": {"field": "a", "type": "nominal", "axis": null}, "y": {"field": "h", "type": "quantitative", "title": ["Final Percent (%) Increase BAT", "SNA (RVI, v*sec/min)"]}, "y2": {"field": "h"}}},
     {"data": {"name": "h_bk"}, "mark": {"type": "rule", "color": "#000", "strokeWidth": 1.5, "xOffset": -1.5, "y2Offset": 5}, "encoding": {"x": {"field": "b", "type": "nominal", "axis": null}, "y": {"field": "h", "type": "quantitative", "title": ["Final Percent (%) Increase BAT", "SNA (RVI, v*sec/min)"]}, "y2": {"field": "h"}}},
     {"data": {"name": "h_bk"}, "mark": {"type": "text", "text": "*", "fontSize": 14, "baseline": "alphabetic", "dy": 1}, "encoding": {"x": {"field": "m", "type": "nominal", "bandPosition": 1.214, "axis": null}, "y": {"field": "h", "type": "quantitative", "title": ["Final Percent (%) Increase BAT", "SNA (RVI, v*sec/min)"]}}},
     {"data": {"name": "h_grp"}, "mark": {"type": "rule", "color": "#000", "strokeWidth": 1.5, "xOffset": -5, "x2Offset": 5}, "encoding": {"x": {"field": "a", "type": "nominal", "axis": null}, "x2": {"field": "b"}, "y": {"field": "yb", "type": "quantitative", "title": ["Final Percent (%) Increase BAT", "SNA (RVI, v*sec/min)"]}}},
     {"data": {"name": "h_grp"}, "mark": {"type": "rule", "color": "#000", "strokeWidth": 1.5, "xOffset": -5, "y2Offset": -4}, "encoding": {"x": {"field": "a", "type": "nominal", "axis": null}, "y": {"field": "yb", "type": "quantitative", "title": ["Final Percent (%) Increase BAT", "SNA (RVI, v*sec/min)"]}, "y2": {"field": "yb"}}},
     {"data": {"name": "h_grp"}, "mark": {"type": "rule", "color": "#000", "strokeWidth": 1.5, "xOffset": 5, "y2Offset": -4}, "encoding": {"x": {"field": "b", "type": "nominal", "axis": null}, "y": {"field": "yb", "type": "quantitative", "title": ["Final Percent (%) Increase BAT", "SNA (RVI, v*sec/min)"]}, "y2": {"field": "yb"}}},
     {"data": {"name": "h_grp"}, "transform": [{"filter": "datum.lab === 'Control'"}], "mark": {"type": "text", "fontSize": 13, "baseline": "middle", "dy": 15}, "encoding": {"x": {"field": "m", "type": "nominal", "bandPosition": 1.214, "axis": null}, "y": {"field": "yb", "type": "quantitative", "title": ["Final Percent (%) Increase BAT", "SNA (RVI, v*sec/min)"]}, "text": {"field": "lab"}}},
     {"data": {"name": "h_grp"}, "transform": [{"filter": "datum.lab === 'KLB'"}], "mark": {"type": "text", "fontSize": 13, "baseline": "middle", "align": "right", "dx": -8, "dy": 15}, "encoding": {"x": {"field": "m", "type": "nominal", "bandPosition": 1.214, "axis": null}, "y": {"field": "yb", "type": "quantitative", "title": ["Final Percent (%) Increase BAT", "SNA (RVI, v*sec/min)"]}, "text": {"field": "lab"}}},
     {"data": {"name": "h_grp"}, "transform": [{"filter": "datum.lab === 'KLB'"}], "mark": {"type": "text", "text": "LepR-KO", "fontSize": 10, "baseline": "middle", "align": "left", "dx": -8, "dy": 10}, "encoding": {"x": {"field": "m", "type": "nominal", "bandPosition": 1.214, "axis": null}, "y": {"field": "yb", "type": "quantitative", "title": ["Final Percent (%) Increase BAT", "SNA (RVI, v*sec/min)"]}}}
    ]
   }
  ]
 }
]
}
